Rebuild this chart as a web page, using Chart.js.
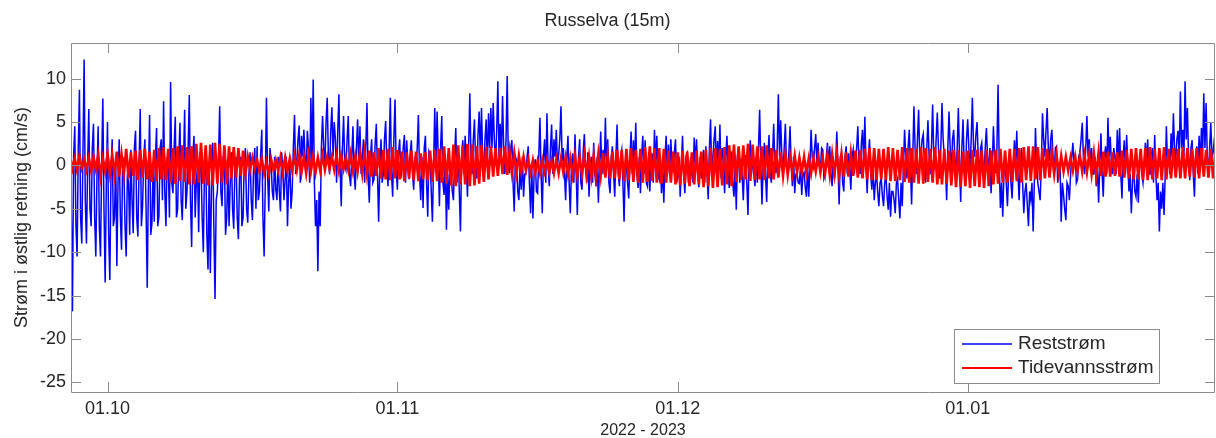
<!DOCTYPE html>
<html><head><meta charset="utf-8">
<script src="https://cdn.jsdelivr.net/npm/chart.js@4.4.0/dist/chart.umd.min.js"></script>
<style>html,body{margin:0;padding:0;background:#fff;overflow:hidden}</style>
</head><body>
<canvas id="c" width="1216" height="438" style="display:block;width:1216px;height:438px"></canvas>
<script>
const chartTitle = 'Russelva (15m)';
const yTitle = 'Strøm i østlig retning (cm/s)';
const xTitle = '2022 - 2023';
const seriesNames = ['Reststrøm', 'Tidevannsstrøm'];
// x axis: days after 01.10.2022
const xTickDays = [0, 31, 61, 92];
const xTickLabels = ['01.10', '01.11', '01.12', '01.01'];
const yTickValues = [-25, -20, -15, -10, -5, 0, 5, 10];
const startDay = -4;
const restStep = 0.125;   // 3 h samples
const tideStep = 0.25;    // 6 h samples

const reststrom = [
-12,-5,-16.8,1,4.5,-7,-10.5,2, 8.7,-6,-9,1.5,12.2,-4,-9,0, 6.5,-5,-7,2,4.8,-6,-10.5,-1, 4.5,-7,-10.5,0,7.7,-5,-13.5,-2,
5,-8,-13.2,-1,3,-7,-6,1, -11.6,-2,3,-6,-9.7,1,0,-7, -10.5,-1,-2,-8,1.8,-4,-7.8,2, 4,-6,-8.2,0,6.5,-7,-4.7,1,
3,-5,-14.1,-2,5.8,-8,-6.7,0, -6.5,1,4.3,-7,-5.9,2,3,-4, 7.4,-3,-7,1,0,-6,9.6,-2, -3.2,2,5.6,-6,-5,1,4.9,-4,
-6.3,0,6.4,-5,-3,2,8.1,-4, -9.4,1,3.4,-6,-2,0,-7.7,1.5, 0.3,-6,-10,0,1.8,-8,-12,-1, -12.4,-2,2.6,-7,-15.4,-4,-3,1,
6.8,-3,-4.7,1,1,-8,-6,0, -7,-2,1.5,-5,-7.3,0,1,-6, -8.5,-1,1,-7,-6,0.5,2,-5, -6.6,-1,1.5,-4,-6.3,0,2,-5,
2.2,-4,-3,1,4.1,-6,-10.5,-2, 7.8,-1,-5.3,2,0.3,-3,-4,1, -2.8,-4,1,-3,-5.3,1.5,-0.5,-4, -1.6,1,-7,-2,0.3,-5,-3,2,
5.8,-1,0.5,3,4.6,-2,3.4,1, 4.1,1,-0.9,4,2,-2,7.8,0, 9.9,-2,-7,-4,-12.2,-3,-7,2, 5.7,2,0,5,7.8,1,-1,4,
6.7,1,5,3,-2,4,8.2,0, -4.7,2,5.7,0,-0.5,3,5.7,-1, -2.4,1,4.5,-1,-2.8,2,5.3,0, 4.5,-1,1,3,-2,2,7.2,-1,
-4.3,1,3,-2,-1.6,2.5,4.8,-1, -6.5,0,3,-2,-1,3,5.1,0, -2.4,2,7.8,-1,-3.6,3,7.6,0, -2.8,1.5,3,-1.5,-0.1,2,3.5,-2,
2.9,0,-1.6,1.5,2.9,-1,-2.8,1, 0,2,5.8,-1,-4,1,-4.9,2, 3.4,-2,-5.9,1.5,1,-3,-6.5,0, 6.6,0,6.2,1,-4.7,2,5.7,-2,
-3.4,1,-7.4,-1,-5.1,0.5,-1,-3, -4,1,4.3,-2,2.2,-3,-7.6,1, 2.9,-1,3.4,0,-3.6,2,8.3,1, -1,3,5.3,0,-1.5,3.5,6.2,1,
6.6,1,-1,3,5.3,0,6,2, 6.6,2,7.2,3,0,4,9.7,1, 4.8,1,8,2,-1,3,10.3,0, -0.9,2,2.9,-2,-5.3,1,0.6,-3,
-4,0,-2.8,1,-3.6,-1,-1,1, 2.2,-2,-5.5,0,-6.1,-1,0.7,-3, -3.2,1,5.5,-1,-5.5,1,3,-2, 6,0,-2.4,2,4.7,-1,3,1,
4.1,0,1.2,3,6.8,0.5,2,-1, -4,1,3.4,-2,-5.5,0,1.4,-2, 3.6,-1,-5.7,1,3,-2,-2.8,1.5, 3.6,0,-2,1.5,-3.6,0,1,-2,
2.6,-1,-2.4,1,-4.3,0,3.9,-1, 1.8,-1,5.5,0,3,-2,-3.2,1, 2.2,-1,-3.6,1,4.7,-1,-2.4,1, 1.8,-2,-6.5,0,-0.1,-2,-3.8,1,
3.9,-1,2.9,0,4.9,-1,-2.6,1, -3.2,1,3.4,-1,2.9,-2,-2.4,1.5, -3,0,1.4,-2,4.1,0,3.4,-1, -1.6,1,-3.2,0,-4.3,1,3.4,-1,
2.4,-1,3,0,-0.5,1.5,3,-2, -1.2,1,-3.6,0,3.4,-1,-3.2,1, 1.4,-2,-0.5,1,-1,-2,3.2,0, 3,-1,-2.5,1,-1.5,0,1.8,-2,
2.2,-1,-3.9,2,5.3,-1,1,3, 4.5,-1,2.8,0,4.7,-1.5,2,1, -3.2,1,3.4,-1,-2.6,1,1.4,-2, -3.6,0,-5.1,1,0.8,-2,0.7,-1,
-4,0,1.2,-2,-5.7,1,2.9,-1, 1.2,-1,-2.4,1,-2,2,6.4,0, -4.5,0,2.6,-1,-4.2,1,3.5,-1, -2,1,4.8,0,-0.9,2,8.2,1,
5.2,1,-1,2,4.8,0,-0.9,1.5, 4.5,0,-2.4,1,-3.2,-1,-0.9,-2, -2.1,0,-3.4,-1,-0.8,-2.5,-3.6,0, -3.6,0,4.1,1,0,2,3.6,0,
2.6,0,-0.5,2,1.8,-1.5,-1,1, 2.6,0,2.2,-1,-2.4,1,-1.5,0, 3.9,0,-4.5,1,1.4,-2,-3,1, 2.2,-1,1.4,0,-2.8,1,1.8,-1,
0.7,2,4.5,0,-1,2.5,4.1,0, 5.6,0,-3.2,1,3,-1,-2.8,0, -4,-2,-1,-3,-4.7,-2,-1.5,-3.5, -4.7,-2,-1,-3.5,-5.1,-2,-5.9,-3,
-3,-4,-5.5,-2,-1.5,-4,-6.1,-2, -4.7,0,4.1,1,-1.5,2,4.1,0, -4.5,1,6.8,2,-1,3,6.4,1, 1,3,3.6,0,-2,2,5.2,1,
-1,2,7,1,-0.5,3,6.1,2, -1.5,2,7.2,3,1,0,-4,2, 6.2,2,-1,3,4.1,1,-1.5,2, 6.6,1,-4.2,2,5.3,0,-2.4,3,
5.3,2,-1,3,7.8,2,1,3.5, 5,1,-1.5,2,2.6,0,-1,2, 4.3,1,-1,2,-3.2,0,4.5,1, -0.9,2,9.3,0,-4.9,-2,-5.9,-1,
0.7,-2,-4.7,-1,1.8,-2,-3.8,0, 2.9,0,4,-1,-4,0,2,-2, -5.5,-3,-2,-4.5,-7,-3,-4,-2, -7.6,-2,4.3,0,-2,-3,-4,0,
6,3,1,4,6.6,2,0.5,3, 4.1,1,-1,2,2.2,-2,-1,0, -6.5,-2,-3.4,-5,-6.3,-2,-2.4,-4, -1.2,1,2.6,0,1.3,-2,-1.6,1,
1.5,3,4.9,1,-1,2,5.7,1, 3,0,2,-1,-1,1,-2.4,0, -4.3,0,3.7,-1,-3.6,1,2.2,-1, 5.5,1,3.3,0,-1,2,1,-1,
4.1,0,4.3,-1,-3.8,1,2.9,-1, 3.5,0,-3,-1,-5.5,-2,0.3,-3, -3.6,-1,-4.3,0,1.4,-1,-2,0, 2.6,0,3,-1,-1,1,2,-2,
3.5,-1,-4,-2,-7.6,-3,-5,-2, -5.7,-1,4.5,0,1.8,-1,3.7,1, 6,2,0.5,3,4,1,8.5,2, 4.1,1,9.7,3,6.6,1,-1.7,2,
2.9,-1,-3.6,1,2.2,-1,3.4,0, 4.3,1,8.3,2,7.2,1,-1.3,2, 4.9,1,1.5,3,4.1
];

const tidevannsstrom = [
1.0,-0.4,0.8,-0.6, 1.1,-0.3,0.7,-0.5, 0.9,-0.6,1.0,-0.4, 1.2,-1.3,0.8,-0.7,
1.4,-0.9,1.2,-1.1, 1.6,-1.3,1.3,-1.0, 1.9,-1.5,1.5,-1.2, 1.7,-1.7,1.8,-1.4,
1.9,-1.6,1.6,-1.9, 1.8,-1.8,2.0,-1.6, 2.1,-1.7,1.9,-2.0, 2.0,-2.1,2.2,-1.8,
2.3,-1.9,2.1,-2.2, 2.2,-2.2,2.5,-2.0, 2.6,-2.1,2.3,-2.3, 2.4,-2.3,2.6,-2.1,
2.5,-2.0,2.3,-2.2, 2.2,-1.5,2.1,-1.4, 2.0,-1.2,1.7,-1.0, 1.0,-0.5,0.9,-0.4,
0.6,-0.7,0.8,-0.9, 0.4,-1.0,0.7,-0.5, 0.6,-0.6,0.9,-0.8, 0.9,-0.7,0.8,-0.6,
1.1,-0.5,1.2,-0.8, 1.0,-0.9,1.2,-0.7, 1.1,-0.8,0.9,-0.6, 1.2,-0.5,1.0,-0.4,
1.0,-0.5,1.2,-0.6, 1.1,-0.4,0.9,-0.5, 1.3,-0.6,1.1,-0.7, 1.4,-0.9,1.6,-1.0,
1.7,-1.3,1.5,-1.2, 2.0,-1.5,1.8,-1.6, 1.9,-1.7,2.1,-1.5, 1.8,-1.6,1.6,-1.8,
1.5,-1.5,1.7,-1.7, 1.6,-1.8,1.4,-1.6, 1.5,-1.7,1.7,-1.9, 1.8,-1.8,1.9,-2.0,
2.2,-2.1,2.0,-2.3, 2.4,-2.4,2.3,-2.2, 2.3,-2.2,2.5,-2.4, 2.4,-2.3,2.2,-2.1,
2.3,-1.9,2.1,-1.6, 2.2,-1.3,2.0,-1.2, 2.0,-1.0,2.2,-1.1, 1.6,-0.8,1.4,-0.9,
1.1,-0.7,1.0,-0.6, 0.7,-0.8,0.6,-0.9, 0.5,-0.9,0.6,-0.7, 0.6,-0.8,0.5,-0.9,
0.7,-0.9,0.8,-0.8, 0.9,-1.0,0.8,-1.1, 1.1,-1.2,1.0,-1.0, 1.2,-1.1,1.0,-1.3,
1.1,-1.3,1.3,-1.2, 1.4,-1.4,1.2,-1.5, 1.6,-1.5,1.8,-1.6, 1.8,-1.8,1.9,-1.7,
2.0,-1.9,1.8,-2.0, 1.9,-2.0,2.1,-1.9, 2.2,-1.8,2.0,-2.0, 2.0,-2.1,1.9,-2.0,
1.7,-2.0,1.6,-2.2, 1.5,-2.3,1.7,-2.1, 1.6,-2.4,1.5,-2.2, 1.7,-2.2,1.6,-2.5,
1.8,-2.4,2.0,-2.6, 2.0,-2.5,1.9,-2.3, 2.1,-2.2,2.3,-2.4, 2.4,-1.9,2.2,-1.7,
2.3,-1.6,2.5,-1.8, 2.4,-1.7,2.2,-1.6, 2.2,-1.7,2.3,-1.5, 2.0,-1.6,1.8,-1.4,
1.5,-1.2,1.3,-1.1, 1.0,-0.9,1.1,-0.8, 0.9,-0.8,1.0,-0.9, 0.8,-0.9,0.9,-0.7,
1.0,-0.8,0.8,-0.9, 1.2,-1.1,1.3,-1.0, 1.4,-1.2,1.3,-1.3, 1.5,-1.3,1.4,-1.2,
1.7,-1.4,1.8,-1.5, 1.9,-1.6,2.0,-1.7, 2.0,-1.7,1.9,-1.6, 1.9,-1.7,2.1,-1.8,
2.0,-1.8,1.8,-1.7, 2.1,-1.9,2.0,-2.0, 2.0,-2.0,1.9,-2.1, 2.1,-2.1,2.0,-1.9,
1.9,-2.0,2.1,-2.2, 1.8,-2.2,1.9,-2.1, 1.7,-2.3,1.8,-2.5, 1.8,-2.5,1.6,-2.4,
1.7,-2.6,1.8,-2.4, 1.8,-2.5,1.7,-2.6, 1.8,-2.4,1.7,-2.2, 1.8,-2.1,1.9,-2.0,
1.7,-2.0,1.9,-1.9, 1.9,-1.8,2.0,-2.0, 2.1,-1.7,2.2,-1.8, 2.2,-1.6,2.1,-1.7,
2.0,-1.5,1.9,-1.4, 1.4,-1.0,1.2,-0.9, 1.1,-0.7,1.0,-0.6, 0.9,-0.6,1.0,-0.7,
1.1,-0.7,1.2,-0.8, 1.3,-1.0,1.4,-1.1, 1.5,-1.2,1.6,-1.3, 1.6,-1.3,1.5,-1.2,
1.5,-1.3,1.7,-1.4, 1.8,-1.5,1.9,-1.6, 2.0,-1.6,1.9,-1.7, 2.0,-1.7,2.1,-1.6,
1.9,-1.5,2.0,-1.7, 2.1,-1.6,1.9,-1.5, 2.0,-1.4,1.9,-1.5, 2.1,-1.5,2.0,-1.3,
1.9,-1.4,2.0,-1.5, 2.0,-1.3,1.8,-1.4, 1.9,-1.5,1.8
];

const toPoints = (arr, step) => arr.map((v, i) => ({ x: startDay + i * step, y: v }));

const FONT = "'Liberation Sans', Arial, sans-serif";
const TEXT = '#262626';
const AXIS = '#8c8c8c';

const framePlugin = {
  id: 'frame',
  afterDatasetsDraw(chart) {
    const { ctx, chartArea: a, scales } = chart;
    ctx.save();
    ctx.strokeStyle = AXIS;
    ctx.lineWidth = 1;
    ctx.beginPath();
    ctx.rect(Math.round(a.left) + 0.5, Math.round(a.top) + 0.5, Math.round(a.right - a.left) - 1, Math.round(a.bottom - a.top));
    const tl = 10;
    yTickValues.forEach(v => {
      const y = Math.round(scales.y.getPixelForValue(v)) + 0.5;
      ctx.moveTo(a.left, y); ctx.lineTo(a.left + tl, y);
      ctx.moveTo(a.right, y); ctx.lineTo(a.right - tl, y);
    });
    xTickDays.forEach(v => {
      const x = Math.round(scales.x.getPixelForValue(v)) + 0.5;
      ctx.moveTo(x, a.bottom); ctx.lineTo(x, a.bottom - tl);
      ctx.moveTo(x, a.top); ctx.lineTo(x, a.top + tl);
    });
    ctx.stroke();
    ctx.restore();
  }
};

const legendPlugin = {
  id: 'boxLegend',
  afterDraw(chart) {
    const { ctx, chartArea: a } = chart;
    const ds = chart.data.datasets;
    ctx.save();
    ctx.font = '19px ' + FONT;
    const textW = Math.max(...ds.map(d => ctx.measureText(d.label).width));
    const padL = 8, lineLen = 50, gap = 6, padR = 6, rowH = 24, padV = 3;
    const w = Math.round(padL + lineLen + gap + textW + padR);
    const h = padV * 2 + rowH * ds.length;
    const right = a.right - 56, bottom = a.bottom - 9;
    const left = Math.round(right - w), top = Math.round(bottom - h);
    ctx.fillStyle = '#fff';
    ctx.fillRect(left, top, w, h);
    ctx.strokeStyle = AXIS;
    ctx.lineWidth = 1;
    ctx.strokeRect(left + 0.5, top + 0.5, w, h);
    ds.forEach((d, i) => {
      const cy = top + padV + rowH * i + rowH / 2;
      ctx.strokeStyle = d.borderColor;
      ctx.lineWidth = d.legendWidth;
      ctx.beginPath();
      ctx.moveTo(left + padL, cy); ctx.lineTo(left + padL + lineLen, cy);
      ctx.stroke();
      ctx.fillStyle = TEXT;
      ctx.textBaseline = 'middle';
      ctx.textAlign = 'left';
      ctx.fillText(d.label, left + padL + lineLen + gap, cy);
    });
    ctx.restore();
  }
};

new Chart(document.getElementById('c'), {
  type: 'line',
  data: {
    datasets: [
      { label: seriesNames[0], data: toPoints(reststrom, restStep), borderColor: '#0000ff', borderWidth: 1.5, legendWidth: 1.3, order: 2, pointRadius: 0, tension: 0 },
      { label: seriesNames[1], data: toPoints(tidevannsstrom, tideStep), borderColor: '#ff0000', borderWidth: 2.6, legendWidth: 2.2, order: 1, pointRadius: 0, tension: 0 }
    ]
  },
  options: {
    responsive: false,
    animation: false,
    devicePixelRatio: 1,
    layout: { padding: { left: 0, right: 1, top: 0, bottom: 0 } },
    plugins: {
      legend: { display: false },
      tooltip: { enabled: false },
      title: {
        display: true, text: chartTitle, color: TEXT,
        font: { family: FONT, size: 18, weight: 'normal', lineHeight: 1.2 },
        padding: { top: 10, bottom: 11.4 }
      }
    },
    scales: {
      x: {
        type: 'linear', min: -3.904, max: 118.45,
        grid: { display: false, drawTicks: false },
        border: { display: false },
        afterBuildTicks: s => { s.ticks = xTickDays.map(v => ({ value: v })); },
        afterFit: s => { s.height = 46; },
        ticks: {
          autoSkip: false, maxRotation: 0, padding: 6, color: TEXT,
          font: { family: FONT, size: 18 },
          callback: v => { const i = xTickDays.indexOf(v); return i >= 0 ? xTickLabels[i] : ''; }
        },
        title: { display: true, text: xTitle, color: TEXT, font: { family: FONT, size: 16, lineHeight: 0.875 }, padding: { top: 0, bottom: 0 } }
      },
      y: {
        type: 'linear', min: -26.1, max: 14.1,
        grid: { display: false, drawTicks: false },
        border: { display: false },
        afterBuildTicks: s => { s.ticks = yTickValues.map(v => ({ value: v })); },
        afterFit: s => { s.width = 71; },
        ticks: { padding: 5, color: TEXT, font: { family: FONT, size: 18 } },
        title: { display: true, text: yTitle, color: TEXT, font: { family: FONT, size: 18, lineHeight: 1.2 }, padding: { top: 11, bottom: 0 } }
      }
    }
  },
  plugins: [framePlugin, legendPlugin]
});
</script>
</body></html>
